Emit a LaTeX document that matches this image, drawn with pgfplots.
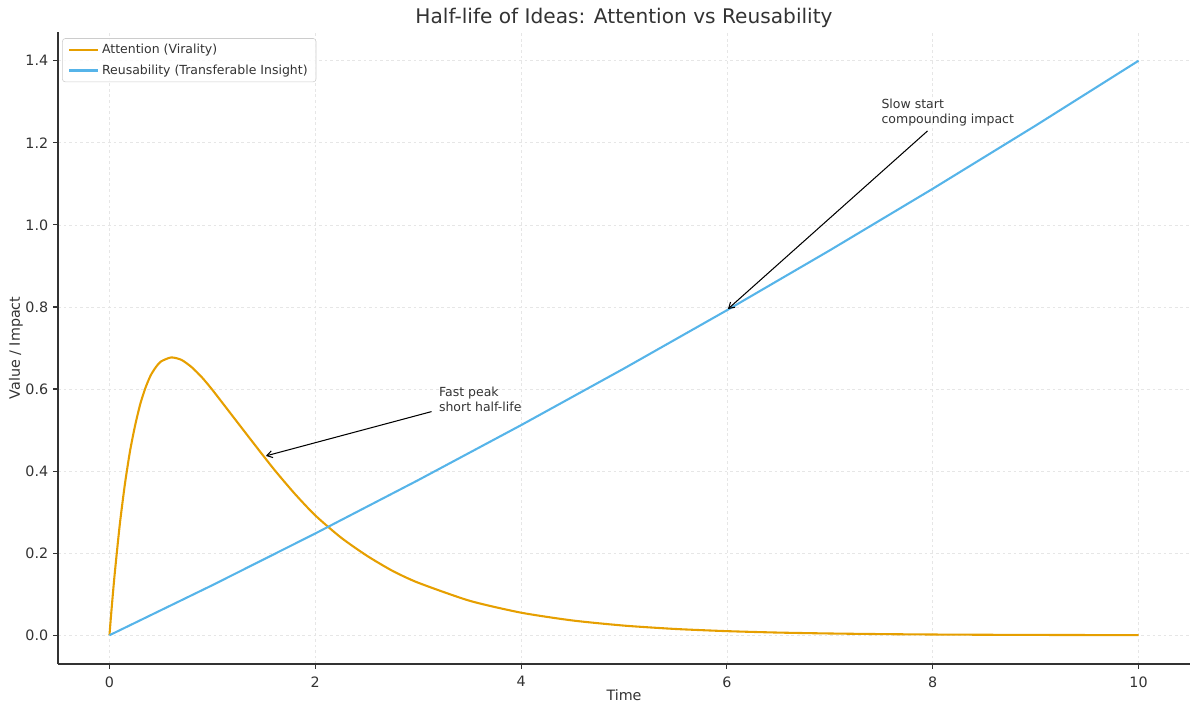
\documentclass[border=0pt]{standalone}
\usepackage{fontspec}
\setmainfont{DejaVu Sans}
\usepackage{pgfplots}
\pgfplotsset{compat=1.18}
\usetikzlibrary{arrows.meta}
\definecolor{attn}{HTML}{E69F00}
\definecolor{reus}{HTML}{56B4E9}
\definecolor{txt}{HTML}{333333}
\definecolor{gridc}{HTML}{E6E6E6}
\begin{document}
\begin{tikzpicture}
\begin{axis}[
  name=ax,
  scale only axis,
  width=815pt, height=455pt,
  xmin=-0.5, xmax=10.5,
  ymin=-0.07, ymax=1.47,
  axis x line*=bottom, axis y line*=left,
  axis line style={txt, line width=0.8pt},
  xtick={0,2,4,6,8,10},
  ytick={0,0.2,0.4,0.6,0.8,1.0,1.2,1.4},
  yticklabel style={/pgf/number format/.cd, fixed, fixed zerofill, precision=1},
  /pgf/number format/assume math mode=true,
  tick align=outside,
  major tick length=3.5pt,
  tick style={txt, line width=0.8pt},
  ticklabel style={font=\fontsize{10.3}{12}\selectfont, text=txt},
  xticklabel style={yshift=-2pt},
  grid=major,
  major grid style={gridc, dash pattern=on 2pt off 2pt, line width=0.5pt},
  title={Half-life of Ideas: Attention vs Reusability},
  title style={font=\fontsize{14.5}{17}\selectfont, text=txt, at={(0.5,1)}, anchor=base, yshift=0pt},
  xlabel={Time},
  ylabel={Value / Impact},
  xlabel style={yshift=5pt},
  ylabel style={yshift=-5pt},
  label style={font=\fontsize{10.3}{12}\selectfont, text=txt},
  legend style={at={(0,1)}, anchor=north west, xshift=3pt, yshift=-4.5pt,
    draw=black!20, rounded corners=2pt, fill=white, fill opacity=0.8, text opacity=1,
    font=\fontsize{9}{10.8}\selectfont, text=txt, inner xsep=4pt, inner ysep=2pt,
    row sep=2.5pt},
  legend cell align=left,
  legend image code/.code={\draw[#1] (0pt,0pt) -- (21pt,0pt);},
]
\addplot[attn, line width=1.5pt, smooth, tension=0.4] coordinates {
(0,0) (0.02,0.062) (0.05,0.147) (0.1,0.269) (0.15,0.368) (0.2,0.449) (0.25,0.512)
(0.3,0.564) (0.35,0.603) (0.4,0.633) (0.45,0.653) (0.5,0.667) (0.6,0.677) (0.7,0.671)
(0.8,0.653) (0.9,0.628) (1.0,0.598) (1.2,0.533) (1.4,0.468) (1.6,0.404) (1.8,0.345)
(2.0,0.292) (2.25,0.238) (2.5,0.194) (2.75,0.157) (3.0,0.128) (3.5,0.084) (4.0,0.055)
(4.5,0.036) (5.0,0.0235) (5.5,0.0153) (6.0,0.0100) (6.5,0.0065) (7.0,0.0043)
(7.5,0.0028) (8.0,0.0018) (8.5,0.0012) (9.0,0.0008) (9.5,0.0005) (10,0.0003)
};
\addlegendentry{Attention (Virality)}
\addplot[reus, line width=1.5pt] coordinates {
(0,0) (1,0.122) (2,0.248) (3,0.378) (4,0.512) (5,0.650) (6,0.792) (7,0.938)
(8,1.088) (9,1.242) (10,1.400)
};
\addlegendentry{Reusability (Transferable Insight)}
\node[anchor=south west, align=left, inner sep=0pt, text=txt,
  font=\fontsize{9}{10.8}\selectfont] at (axis cs:3.2,0.543) {Fast peak\\short half-life};
\node[anchor=south west, align=left, inner sep=0pt, text=txt,
  font=\fontsize{9}{10.8}\selectfont] at (axis cs:7.5,1.240) {Slow start\\compounding impact};
\draw[-{Straight Barb[length=4pt,width=5pt]}, black, line width=0.75pt]
  (axis cs:3.13,0.545) -- (axis cs:1.52,0.437);
\draw[-{Straight Barb[length=4pt,width=5pt]}, black, line width=0.75pt]
  (axis cs:7.95,1.229) -- (axis cs:6.01,0.795);
\coordinate (ll) at (rel axis cs:0,0);
\coordinate (ur) at (rel axis cs:1,1);
\end{axis}
\pgfresetboundingbox
\path ([xshift=-41.76pt,yshift=-36pt]ll) rectangle ([xshift=7.2pt,yshift=23.04pt]ur);
\end{tikzpicture}
\end{document}
